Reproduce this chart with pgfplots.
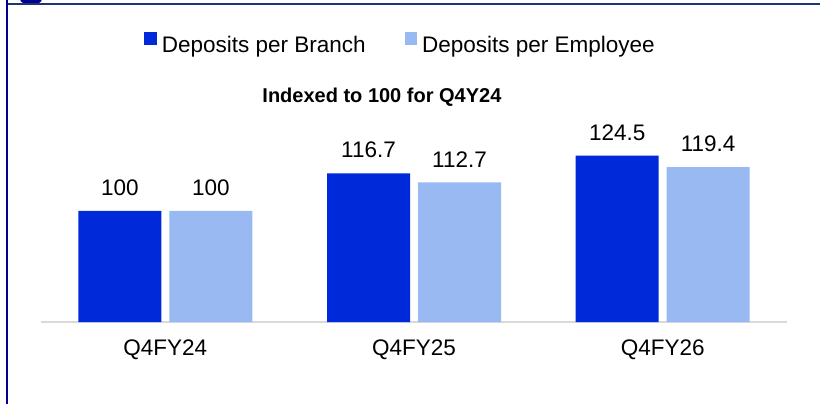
\documentclass[border=0pt]{standalone}
\usepackage{pgfplots}
\pgfplotsset{compat=1.18}
\usepackage{fontspec}
\setmainfont{Liberation Sans}
\definecolor{cBranch}{HTML}{0029D9}
\definecolor{cEmp}{HTML}{99B9F3}
\definecolor{cAxis}{HTML}{D9D9D9}
\definecolor{cNavy}{HTML}{000090}
\definecolor{cTop}{HTML}{1B3577}
\begin{document}
\begin{tikzpicture}[x=1bp,y=1bp]
\useasboundingbox (0,0) rectangle (820,404);
\begin{scope}
\clip (0,0) rectangle (820,404);
\fill[cNavy] (31,405) ellipse (11 and 6);
\end{scope}
\draw[cTop, line width=2.4bp] (6,399.7) -- (820,399.7);
\draw[cNavy, line width=2.4bp] (7,0) -- (7,404);
\begin{axis}[
  at={(41bp,82bp)}, anchor=south west, scale only axis,
  width=746bp, height=201.3bp,
  xmin=-0.5, xmax=2.5, ymin=50.8, ymax=140,
  axis y line=none, axis x line=bottom,
  x axis line style={draw=cAxis, line width=2bp, -},
  xtick={0,1,2}, xticklabels={Q4FY24,Q4FY25,Q4FY26},
  major tick length=0pt, ytick=\empty,
  xticklabel style={font=\fontsize{22.5bp}{26bp}\selectfont, inner sep=0pt, anchor=north, yshift=-18bp},
  ybar,
  nodes near coords,
  nodes near coords style={font=\fontsize{22.5bp}{26bp}\selectfont, inner sep=0pt, anchor=south, yshift=15bp, text=black},
  /pgf/number format/assume math mode=true,
  title={Indexed to 100 for Q4Y24},
  every axis title shift=0pt,
  title style={at={(0.457,1.118)}, anchor=center, yshift=0pt, font=\bfseries\fontsize{20bp}{24bp}\selectfont, inner sep=0pt},
  legend image code/.code={\fill[#1] (0bp,1bp) rectangle (12.5bp,13.5bp);},
  legend columns=2,
  legend style={at={(0.4806,1.385)}, anchor=center, draw=none, fill=none,
    font=\fontsize{22.5bp}{26bp}\selectfont,
    nodes={inner sep=0pt},
    /tikz/every odd column/.append style={column sep=5bp},
    /tikz/every even column/.append style={column sep=39bp}},
]
\addplot[fill=cBranch, draw=none, bar width=83bp, bar shift=-45.5bp] coordinates {(0,100) (1,116.7) (2,124.5)};
\addlegendentry{Deposits per Branch}
\addplot[fill=cEmp, draw=none, bar width=83bp, bar shift=45.5bp] coordinates {(0,100) (1,112.7) (2,119.4)};
\addlegendentry{Deposits per Employee}
\end{axis}
\end{tikzpicture}
\end{document}
